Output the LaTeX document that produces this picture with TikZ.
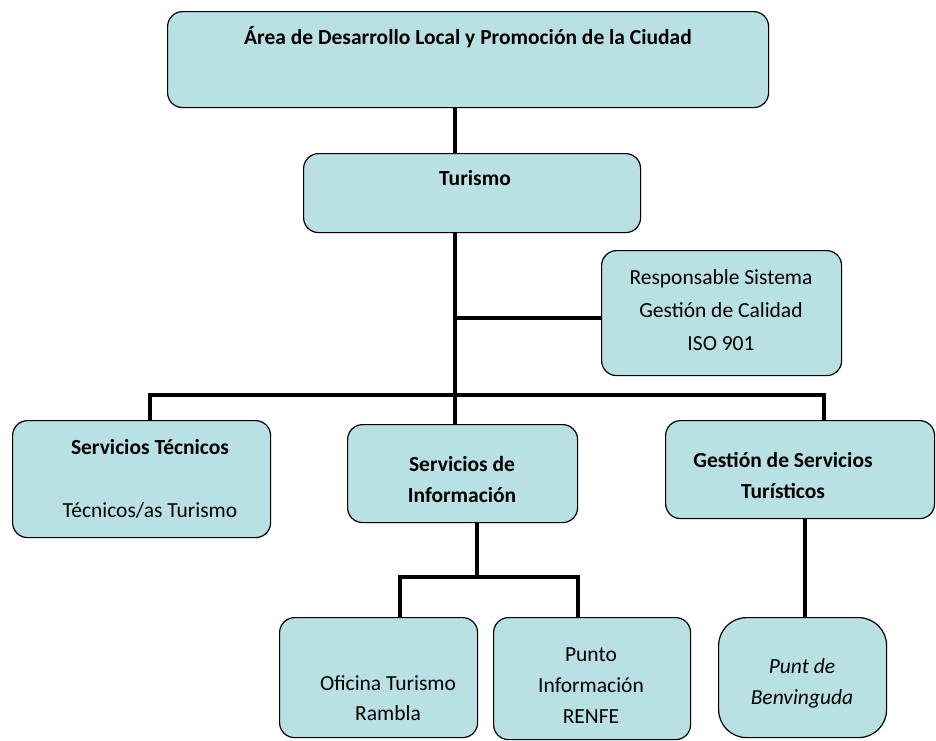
\documentclass[tikz,border=0pt]{standalone}
\usepackage{fontspec}
\setmainfont{Carlito}
\definecolor{boxfill}{RGB}{185,224,227}
\tikzset{
  orgbox/.style={draw=black, line width=1.2pt, fill=boxfill, rounded corners=15pt, inner sep=0pt, anchor=north west},
  orgtext/.style={font=\fontsize{21.5}{33}\selectfont, align=center, inner sep=0pt},
  boldtext/.style={orgtext, font=\fontsize{21.5}{31}\selectfont\bfseries},
  link/.style={draw=black, line width=4pt}
}
\begin{document}
\begin{tikzpicture}[x=1pt,y=-1pt]
\useasboundingbox (0,0) rectangle (936,740);

% boxes
\node[orgbox, minimum width=601pt, minimum height=96pt] (area) at (167,11) {};
\node[orgbox, minimum width=337pt, minimum height=79pt] (tur) at (303,153) {};
\node[orgbox, minimum width=240pt, minimum height=125pt] (resp) at (601,250) {};
\node[orgbox, minimum width=258pt, minimum height=117pt] (stec) at (12,420) {};
\node[orgbox, minimum width=230pt, minimum height=98pt] (sinf) at (347,424) {};
\node[orgbox, minimum width=269pt, minimum height=98pt] (gest) at (665,420) {};
\node[orgbox, minimum width=198pt, minimum height=120pt] (ofi) at (279,617) {};
\node[orgbox, minimum width=197pt, minimum height=122pt] (pun) at (493,617) {};
\node[orgbox, rounded corners=28pt, minimum width=168pt, minimum height=120pt] (ben) at (718,617) {};

% texts
\node[boldtext] (areat) at (468,37) {Área de Desarrollo Local y Promoción de la Ciudad};
\node[boldtext] (turt) at (475,178) {Turismo};
\node[orgtext] (respt) at (721,310) {Responsable Sistema\\Gestión de Calidad\\ISO 901};
\node[boldtext] (stect) at (150,447) {Servicios Técnicos};
\node[orgtext] (stect2) at (150,510) {Técnicos/as Turismo};
\node[boldtext] (sinft) at (462,480) {Servicios de\\Información};
\node[boldtext] (gestt) at (783,476) {Gestión de Servicios\\Turísticos};
\node[orgtext, font=\fontsize{21.5}{30}\selectfont] (ofit) at (388,698) {Oficina Turismo\\Rambla};
\node[orgtext, font=\fontsize{21.5}{31}\selectfont] (punt) at (591,686) {Punto\\Información\\RENFE};
\node[orgtext, font=\fontsize{21.5}{31}\selectfont\itshape] (bent) at (802,683) {Punt de\\Benvinguda};

% junction points
\coordinate (stem) at (455,395);
\coordinate (rj) at (455,318);
\coordinate (lb) at (150,395);
\coordinate (rb) at (824,395);
\coordinate (sstem) at (477,577);
\coordinate (sl) at (400,577);
\coordinate (sr) at (578,577);
\coordinate (gstem) at (805,520);

% connectors
\draw[link] (area.south -| stem) -- (tur.north -| stem);
\draw[link] (tur.south -| stem) -- (stem);
\draw[link] (rj) -- (resp.west |- rj);
\draw[link, line cap=rect] (lb) -- (rb);
\draw[link] (lb) -- (stec.north -| lb);
\draw[link] (stem) -- (sinf.north -| stem);
\draw[link] (rb) -- (gest.north -| rb);
\draw[link] (sinf.south -| sstem) -- (sstem);
\draw[link, line cap=rect] (sl) -- (sr);
\draw[link] (sl) -- (ofi.north -| sl);
\draw[link] (sr) -- (pun.north -| sr);
\draw[link] (gest.south -| gstem) -- (ben.north -| gstem);
\end{tikzpicture}
\end{document}
